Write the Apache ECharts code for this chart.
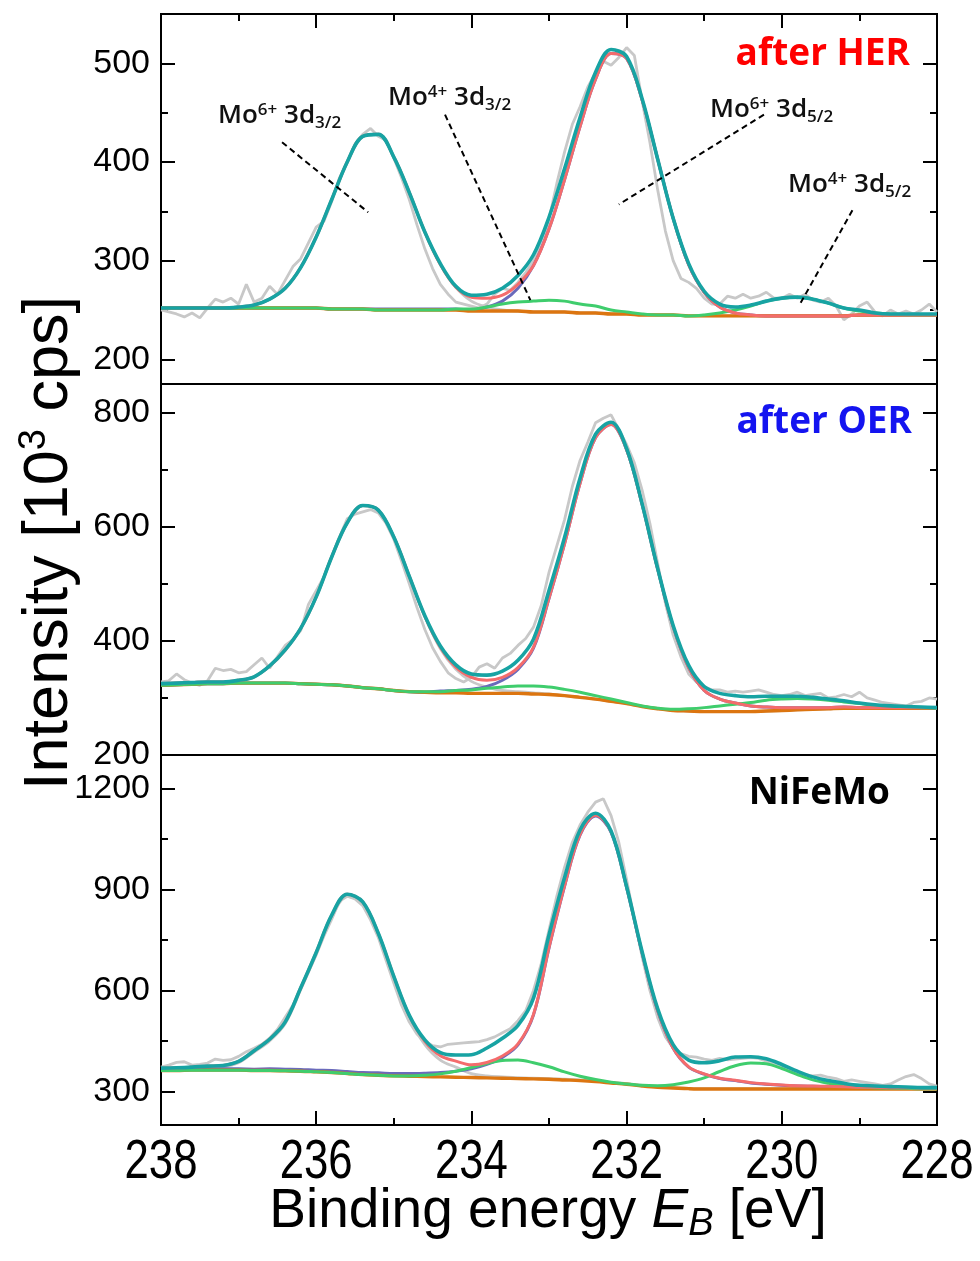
<!DOCTYPE html>
<html><head><meta charset="utf-8">
<script src="https://cdn.jsdelivr.net/npm/echarts@6/dist/echarts.min.js"></script>
<style>html,body{margin:0;padding:0;background:#fff}#chart{width:980px;height:1261px}</style>
</head><body><div id="chart"></div>
<script>
// ---------- x grids (binding energy, eV) ----------
const energyFit = [238.0,237.8,237.6,237.4,237.2,237.0,236.8,236.6,236.4,236.2,236.0,235.8,235.6,235.4,235.2,235.0,234.8,234.6,234.4,234.2,234.0,233.8,233.6,233.4,233.2,233.0,232.8,232.6,232.4,232.2,232.0,231.8,231.6,231.4,231.2,231.0,230.8,230.6,230.4,230.2,230.0,229.8,229.6,229.4,229.2,229.0,228.8,228.6,228.4,228.2,228.0];
const energyRaw = [238.0,237.9,237.8,237.7,237.6,237.5,237.4,237.3,237.2,237.1,237.0,236.9,236.8,236.7,236.6,236.5,236.4,236.3,236.2,236.1,236.0,235.9,235.8,235.7,235.6,235.5,235.4,235.3,235.2,235.1,235.0,234.9,234.8,234.7,234.6,234.5,234.4,234.3,234.2,234.1,234.0,233.9,233.8,233.7,233.6,233.5,233.4,233.3,233.2,233.1,233.0,232.9,232.8,232.7,232.6,232.5,232.4,232.3,232.2,232.1,232.0,231.9,231.8,231.7,231.6,231.5,231.4,231.3,231.2,231.1,231.0,230.9,230.8,230.7,230.6,230.5,230.4,230.3,230.2,230.1,230.0,229.9,229.8,229.7,229.6,229.5,229.4,229.3,229.2,229.1,229.0,228.9,228.8,228.7,228.6,228.5,228.4,228.3,228.2,228.1,228.0];

// ---------- after HER (10^3 cps) ----------
const herRaw = [250,248,246,243,247,242,252,261,258,262,256,276,258,262,274,266,280,294,302,318,334,340,360,384,400,418,428,434,426,422,404,384,362,336,312,292,276,266,258,256,254,252,256,266,272,270,278,288,300,316,342,378,410,438,456,476,490,502,498,506,516,508,462,420,372,330,300,282,278,272,262,256,256,264,262,266,262,264,268,262,262,266,262,266,260,258,262,254,240,246,254,258,248,244,250,246,249,246,250,256,248];
const herMo6_32 = [252,252,252,252,252,253,255,261,272,293,324,362,400,426,428,405,369,329,296,273,259,253,250,249,248,248,248,247,247,246,246,245,245,245,244,244,244,244,244,244,244,244,244,244,244,245,245,245,245,245,245];
const herBackground = [252,252,252,252,252,252,252,252,252,252,252,251,251,251,250,250,250,250,250,250,249,249,249,249,248,248,248,247,247,246,246,245,245,245,244,244,244,244,244,244,244,244,244,244,244,245,245,245,245,245,245];
const herMo6_52 = [252,252,252,252,252,252,252,252,252,252,252,251,251,251,251,251,251,251,251,251,250,253,259,272,295,332,382,436,484,510,505,463,403,343,296,268,253,247,245,244,244,244,244,244,244,245,245,245,245,245,245];
const herMo4 = [252,252,252,252,252,252,252,252,252,252,252,251,251,251,250,250,250,250,250,251,251,253,256,258,259,260,259,256,254,250,248,246,245,245,244,245,247,250,254,259,262,263,261,257,252,249,247,246,245,245,245];
const herMo6 = [252,252,252,252,252,253,255,261,272,293,324,362,400,426,428,405,369,329,296,273,263,262,265,276,295,332,382,436,484,510,505,463,403,343,296,268,253,247,245,244,244,244,244,244,244,245,245,245,245,245,245];
const herEnvelope = [252,252,252,252,252,253,255,261,272,293,324,362,400,426,428,405,369,329,297,274,265,266,272,285,306,344,393,445,491,514,507,464,403,343,297,269,256,253,255,259,262,263,261,257,252,250,247,246,246,246,246];

// ---------- after OER ----------
const oerRaw = [328,330,342,332,326,322,330,352,348,350,344,346,358,370,352,372,392,402,418,464,488,512,548,582,614,622,626,630,624,606,578,540,500,458,420,388,364,344,334,328,336,354,360,352,370,378,392,404,424,462,520,566,612,670,716,748,782,790,796,770,744,712,664,606,536,466,410,372,342,328,320,314,314,310,312,310,312,314,310,306,304,306,310,304,306,308,300,302,306,302,310,300,296,292,290,288,286,292,294,300,298];
const oerMo6_32 = [325,326,327,328,328,330,337,355,383,421,477,547,607,637,629,582,513,443,386,350,329,319,313,311,309,307,304,301,298,294,290,285,281,278,277,276,276,276,276,277,278,279,280,281,282,282,282,282,282,282,282];
const oerBackground = [322,323,324,325,325,326,326,326,326,325,324,323,321,318,316,313,311,310,309,309,308,308,308,308,307,306,304,301,298,294,290,285,281,278,277,276,276,276,276,277,278,279,280,281,282,282,282,282,282,282,282];
const oerMo6_52 = [322,323,324,325,325,326,326,326,326,325,324,323,321,318,316,313,311,310,312,313,315,320,331,350,387,474,570,676,756,779,735,639,526,425,353,313,298,291,286,284,283,283,283,283,284,283,283,283,283,283,283];
const oerMo4 = [322,323,324,325,325,326,326,326,326,325,324,323,321,318,316,313,311,311,311,313,314,317,319,321,321,319,315,310,304,298,292,286,282,280,281,283,286,289,292,296,298,299,298,296,293,290,287,285,284,283,282];
const oerMo6 = [325,326,327,328,328,331,337,356,384,422,477,547,607,637,629,582,513,443,389,354,336,331,336,353,389,475,570,676,756,779,735,639,526,425,353,313,298,291,286,284,283,283,283,283,284,283,283,283,283,283,283];
const oerEnvelope = [325,326,327,328,328,331,337,356,384,422,477,547,607,637,629,582,513,444,391,358,342,340,347,366,403,488,581,685,762,783,737,640,527,427,357,320,308,304,302,303,303,303,301,298,295,291,288,286,285,284,283];

// ---------- NiFeMo ----------
const nifemoRaw = [372,378,386,388,378,380,384,396,392,394,404,418,428,440,458,484,520,556,610,656,706,762,812,866,880,872,852,810,758,690,622,556,506,470,450,436,432,440,442,444,446,448,454,462,474,486,510,540,600,680,780,880,966,1040,1092,1130,1160,1170,1120,1040,930,812,700,600,520,462,428,412,404,402,396,392,398,394,396,398,400,398,390,384,376,366,356,350,346,348,342,338,330,334,330,326,322,318,322,334,344,350,338,322,316];
const nifemoMo6_32 = [366,367,369,371,373,385,417,450,501,602,708,818,880,857,763,635,517,439,393,372,353,346,343,341,339,338,336,334,331,327,323,318,313,311,309,308,308,308,308,308,308,308,308,308,308,308,308,308,308,308,308];
const nifemoBackground = [362,362,363,363,363,363,362,362,361,360,358,356,353,350,348,346,345,344,343,342,341,340,339,338,337,336,334,332,329,325,321,316,312,310,308,307,307,307,307,307,307,307,307,307,307,307,307,307,307,307,307];
const nifemoMo6_52 = [365,365,366,367,367,367,366,367,366,365,363,362,359,356,355,353,353,354,356,360,367,380,401,438,527,726,909,1062,1119,1070,906,711,540,428,372,351,338,332,325,321,318,316,315,314,313,311,311,310,310,309,309];
const nifemoMo4 = [362,362,363,363,363,363,362,362,361,360,358,356,353,350,348,346,346,348,352,360,371,383,392,393,385,373,358,345,335,327,322,318,317,320,328,340,359,376,384,382,368,350,334,324,317,313,311,310,309,308,308];
const nifemoMo6 = [369,370,372,375,377,389,421,455,506,607,713,824,886,863,770,642,525,449,406,390,379,386,405,441,529,728,911,1064,1121,1072,908,713,541,429,373,352,339,333,326,322,319,317,316,315,314,312,312,311,311,310,310];
const nifemoEnvelope = [369,370,372,375,377,389,421,455,506,607,713,824,886,863,770,642,526,453,415,408,409,429,458,496,577,765,935,1077,1127,1074,909,715,546,439,393,385,391,402,403,397,380,360,343,332,324,318,316,314,313,311,311];

// ---------- ticks ----------
const xTickLabels = [238,236,234,232,230,228];
const herMajorTicks = [200,300,400,500];
const herMinorTicks = [250,350,450];
const oerMajorTicks = [200,400,600,800];
const oerMinorTicks = [300,500,700];
const nifemoMajorTicks = [300,600,900,1200];
const nifemoMinorTicks = [450,750,1050];

// ---------- leader lines of the peak labels (top panel, data coords) ----------
const leaderMo6_32 = [[236.44,420],[235.33,349]];
const leaderMo4_32 = [[234.34,448],[233.24,260]];
const leaderMo6_52 = [[230.23,448],[232.10,357]];
const leaderMo4_52 = [[229.09,351],[229.78,254]];

// ---------- build ----------
const C = {raw:'#c8c8c8', comp:'#c8c8c8', blue:'#6a6abb', bg:'#dc7510', green:'#3fcd6d', red:'#f46c6c', teal:'#17a3a3'};
const panels = [
  {raw:herRaw, comp:herMo6_32, bg:herBackground, blue:herMo6_52, green:herMo4, red:herMo6, teal:herEnvelope, min:175, max:550, major:herMajorTicks, minor:herMinorTicks},
  {raw:oerRaw, comp:oerMo6_32, bg:oerBackground, blue:oerMo6_52, green:oerMo4, red:oerMo6, teal:oerEnvelope, min:200, max:850, major:oerMajorTicks, minor:oerMinorTicks},
  {raw:nifemoRaw, comp:nifemoMo6_32, bg:nifemoBackground, blue:nifemoMo6_52, green:nifemoMo4, red:nifemoMo6, teal:nifemoEnvelope, min:200, max:1300, major:nifemoMajorTicks, minor:nifemoMinorTicks}
];
const gridBoxes = [{top:14,height:370},{top:384,height:371},{top:755,height:370}];
const pair = (xs, ys) => xs.map((x, i) => [x, ys[i]]);
const tickStyle = {color:'#000', width:2};
const sansFont = "'Liberation Sans',Arial,sans-serif";

const grid = gridBoxes.map(b => ({left:161, right:43, top:b.top, height:b.height, show:true, borderColor:'#000', borderWidth:2,
  backgroundColor:'transparent', containLabel:false, outerBoundsMode:'none'}));
const xAxis = panels.map((p, g) => ({
  gridIndex:g, type:'value', min:228, max:238, interval:2, inverse:true,
  position: g === 0 ? 'top' : 'bottom',
  axisLine:{show:false}, splitLine:{show:false},
  axisTick:{show: g !== 1, inside:true, length:14, lineStyle:tickStyle},
  minorTick:{show: g !== 1, splitNumber:2, length:7, lineStyle:tickStyle},
  axisLabel:{show:false}
}));
const yAxis = [];
panels.forEach((p, g) => {
  const base = {gridIndex:g, type:'value', min:p.min, max:p.max, axisLine:{show:false}, splitLine:{show:false}};
  yAxis.push(Object.assign({}, base, {position:'left',
    axisTick:{show:true, inside:true, length:14, customValues:p.major, lineStyle:tickStyle},
    axisLabel:{show:true, customValues:p.major, margin:11, fontSize:34, color:'#000', fontFamily:sansFont,
      formatter:(v) => String(v)}}));
  yAxis.push(Object.assign({}, base, {position:'left',
    axisTick:{show:true, inside:true, length:7, customValues:p.minor, lineStyle:tickStyle},
    axisLabel:{show:false, customValues:p.minor}}));
  yAxis.push(Object.assign({}, base, {position:'right',
    axisTick:{show:true, inside:true, length:14, customValues:p.major, lineStyle:tickStyle},
    axisLabel:{show:false, customValues:p.major}}));
  yAxis.push(Object.assign({}, base, {position:'right',
    axisTick:{show:true, inside:true, length:7, customValues:p.minor, lineStyle:tickStyle},
    axisLabel:{show:false, customValues:p.minor}}));
});

const series = [];
panels.forEach((p, g) => {
  const common = {type:'line', xAxisIndex:g, yAxisIndex:4*g, showSymbol:false, symbol:'none', animation:false, silent:true};
  series.push(Object.assign({}, common, {name:'raw', data:pair(energyRaw, p.raw), lineStyle:{color:C.raw, width:2.8}}));
  series.push(Object.assign({}, common, {name:'Mo6+ 3d3/2', data:pair(energyFit, p.comp), smooth:0.35, lineStyle:{color:C.comp, width:2.8}}));
  series.push(Object.assign({}, common, {name:'Mo6+ 3d5/2', data:pair(energyFit, p.blue), smooth:0.35, lineStyle:{color:C.blue, width:3}}));
  series.push(Object.assign({}, common, {name:'background', data:pair(energyFit, p.bg), smooth:0.35, lineStyle:{color:C.bg, width:3.4}}));
  series.push(Object.assign({}, common, {name:'Mo4+', data:pair(energyFit, p.green), smooth:0.35, lineStyle:{color:C.green, width:3}}));
  series.push(Object.assign({}, common, {name:'Mo6+', data:pair(energyFit, p.red), smooth:0.35, lineStyle:{color:C.red, width:3}}));
  series.push(Object.assign({}, common, {name:'envelope', data:pair(energyFit, p.teal), smooth:0.35, lineStyle:{color:C.teal, width:3.6}}));
});
[leaderMo6_32, leaderMo4_32, leaderMo6_52, leaderMo4_52].forEach(d => {
  series.push({type:'line', xAxisIndex:0, yAxisIndex:0, data:d, showSymbol:false, symbol:'none', silent:true, z:5,
    lineStyle:{color:'#000', width:2, type:[6,4]}});
});

const chart = echarts.init(document.getElementById('chart'), null, {renderer:'canvas'});
chart.setOption({animation:false, backgroundColor:'#fff', grid, xAxis, yAxis, series});

const lf = "'Open Sans','Noto Sans',sans-serif";
const peakRich = {
  m:{fontSize:26, fontFamily:lf, fontWeight:600, lineHeight:30, fill:'#111'},
  sup:{fontSize:17, fontFamily:lf, fontWeight:600, lineHeight:17, padding:[0,0,11,0], fill:'#111'},
  sub:{fontSize:17, fontFamily:lf, fontWeight:600, lineHeight:17, padding:[15,0,0,0], fill:'#111'}
};
function peakLabel(x, y, ox, level) {
  return {type:'text', x:x, y:y, z:10, silent:true,
    style:{text:'{m|Mo}{sup|' + ox + '}{m| 3d}{sub|' + level + '}', rich:peakRich, align:'left', verticalAlign:'middle'}};
}
function tag(text, x, y, color) {
  return {type:'text', x:x, y:y, z:10, silent:true,
    style:{text:text, font:"bold 37px " + lf, fill:color, align:'right', verticalAlign:'middle'}};
}
// condensed x tick labels placed through the bottom x axis scale
const axisBottomY = chart.convertToPixel({yAxisIndex:8}, 200);
const xLabelEls = xTickLabels.map(v => ({type:'text', x:chart.convertToPixel({xAxisIndex:2}, v), y:axisBottomY + 10,
  scaleX:0.78, silent:true,
  style:{text:String(v), font:"56px " + sansFont, fill:'#000', align:'center', verticalAlign:'top'}}));

const graphic = [
  peakLabel(218, 116, '6+', '3/2'),
  peakLabel(388, 98, '4+', '3/2'),
  peakLabel(710, 110, '6+', '5/2'),
  peakLabel(788, 185, '4+', '5/2'),
  tag('after HER', 910, 54, '#ff0000'),
  tag('after OER', 912, 422, '#1414f0'),
  tag('NiFeMo', 890, 793, '#000'),
  {type:'text', x:50, y:543, rotation:Math.PI/2, silent:true,
    style:{text:'{t|Intensity [10}{s|3}{t| cps]}', align:'center', verticalAlign:'middle',
      rich:{t:{fontSize:63, fontFamily:sansFont, lineHeight:72, fill:'#000'},
            s:{fontSize:38, fontFamily:sansFont, lineHeight:38, padding:[0,0,30,0], fill:'#000'}}}},
  {type:'text', x:548, y:1212, silent:true,
    style:{text:'{t|Binding energy }{e|E}{b|B}{t| [eV]}', align:'center', verticalAlign:'middle',
      rich:{t:{fontSize:55, fontFamily:sansFont, lineHeight:64, fill:'#000'},
            e:{fontSize:55, fontStyle:'italic', fontFamily:sansFont, lineHeight:64, fill:'#000'},
            b:{fontSize:38, fontStyle:'italic', fontFamily:sansFont, lineHeight:38, padding:[24,0,0,0], fill:'#000'}}}}
].concat(xLabelEls);
chart.setOption({graphic});
</script></body></html>
